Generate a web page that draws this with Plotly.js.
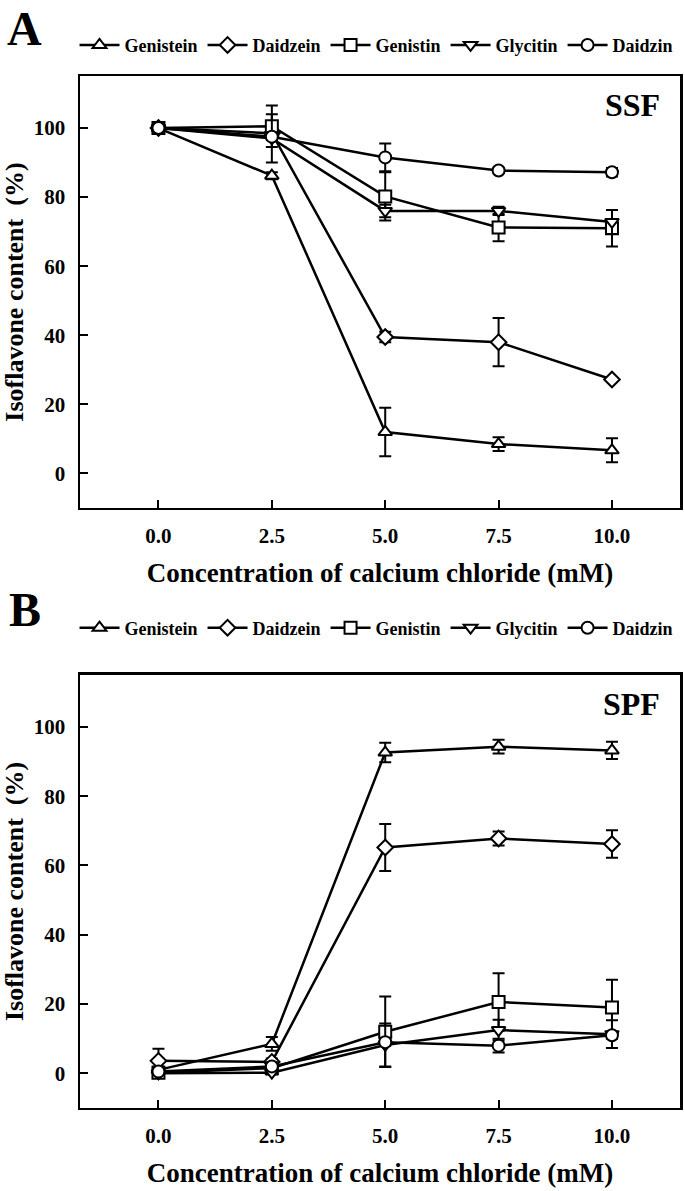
<!DOCTYPE html>
<html>
<head>
<meta charset="utf-8">
<script src="https://cdn.plot.ly/plotly-3.0.1.min.js"></script>
<style>body{margin:0;background:#fff}#chart{width:685px;height:1191px}</style>
</head>
<body>
<div id="chart"></div>
<script>
// concentration of calcium chloride (mM)
const conc = [0, 2.5, 5.0, 7.5, 10.0];
const seriesNames = ["Genistein", "Daidzein", "Genistin", "Glycitin", "Daidzin"];
const symbols = ["triangle-up", "diamond", "square", "triangle-down", "circle"];
const xTickVals = [0, 2.5, 5.0, 7.5, 10.0];
const xTickText = ["0.0", "2.5", "5.0", "7.5", "10.0"];
const yTickVals = [0, 20, 40, 60, 80, 100];

// Panel A (SSF)
const ssfGenistein    = [100, 86.2, 12.0, 8.5, 6.7];
const ssfGenisteinErr = [0.8, 1.0, 7.0, 2.0, 3.5];
const ssfDaidzein     = [100, 98.5, 39.5, 38.0, 27.2];
const ssfDaidzeinErr  = [0.8, 1.0, 1.5, 7.0, 0.5];
const ssfGenistin     = [100, 100.5, 80.2, 71.2, 71.0];
const ssfGenistinErr  = [0.8, 6.0, 7.0, 4.0, 5.3];
const ssfGlycitin     = [100, 97.0, 76.0, 76.0, 72.8];
const ssfGlycitinErr  = [0.8, 7.0, 1.8, 1.2, 3.5];
const ssfDaidzin      = [100, 97.5, 91.5, 87.7, 87.2];
const ssfDaidzinErr   = [0.8, 1.0, 4.0, 0.8, 1.2];

// Panel B (SPF)
const spfGenistein    = [1.0, 8.5, 92.6, 94.3, 93.2];
const spfGenisteinErr = [1.0, 2.0, 2.8, 2.0, 2.5];
const spfDaidzein     = [3.6, 3.3, 65.2, 67.8, 66.2];
const spfDaidzeinErr  = [3.5, 1.0, 6.8, 2.0, 4.0];
const spfGenistin     = [0.2, 1.5, 12.0, 20.6, 19.0];
const spfGenistinErr  = [0.5, 1.0, 10.2, 8.3, 8.0];
const spfGlycitin     = [0.0, 0.2, 8.2, 12.5, 11.3];
const spfGlycitinErr  = [0.5, 0.5, 6.2, 3.0, 4.0];
const spfDaidzin      = [0.5, 2.0, 9.0, 8.0, 11.0];
const spfDaidzinErr   = [0.5, 0.5, 1.0, 2.0, 1.0];

const ssfVals = [ssfGenistein, ssfDaidzein, ssfGenistin, ssfGlycitin, ssfDaidzin];
const ssfErrs = [ssfGenisteinErr, ssfDaidzeinErr, ssfGenistinErr, ssfGlycitinErr, ssfDaidzinErr];
const spfVals = [spfGenistein, spfDaidzein, spfGenistin, spfGlycitin, spfDaidzin];
const spfErrs = [spfGenisteinErr, spfDaidzeinErr, spfGenistinErr, spfGlycitinErr, spfDaidzinErr];

const FONT = "Liberation Serif";
const XDOM = [80 / 685, 680 / 685];

function makeTrace(name, sym, y, err, xa, ya, leg) {
  return {
    x: conc, y: y, name: name, type: "scatter", mode: "lines+markers",
    xaxis: xa, yaxis: ya, legend: leg,
    line: {color: "#000", width: 2.5},
    marker: {symbol: sym, size: 12, color: "#fff", line: {color: "#000", width: 2}},
    error_y: {type: "data", array: err, visible: true, color: "#000", thickness: 2, width: 6},
    cliponaxis: false
  };
}

const traces = [];
for (let i = 0; i < seriesNames.length; i++) {
  traces.push(makeTrace(seriesNames[i], symbols[i], ssfVals[i], ssfErrs[i], "x", "y", "legend"));
}
for (let i = 0; i < seriesNames.length; i++) {
  traces.push(makeTrace(seriesNames[i], symbols[i], spfVals[i], spfErrs[i], "x2", "y2", "legend2"));
}

function xAxis(anchor) {
  return {
    anchor: anchor, domain: XDOM, range: [-1.73, 11.5],
    tickvals: xTickVals, ticktext: xTickText,
    ticks: "inside", ticklen: 8, tickwidth: 2, tickcolor: "#000",
    showline: true, linewidth: 2.5, linecolor: "#000", mirror: true,
    showgrid: false, zeroline: false,
    tickfont: {family: FONT, size: 21, weight: "bold", color: "#000"},
    ticklabelstandoff: 7,
    title: {text: "Concentration of calcium chloride (mM)", standoff: 17,
            font: {family: FONT, size: 27, weight: "bold", color: "#000"}}
  };
}
function yAxis(anchor, domain) {
  return {
    anchor: anchor, domain: domain, range: [-10, 115],
    tickvals: yTickVals,
    ticks: "inside", ticklen: 8, tickwidth: 2, tickcolor: "#000",
    showline: true, linewidth: 2.5, linecolor: "#000", mirror: true,
    showgrid: false, zeroline: false,
    tickfont: {family: FONT, size: 21, weight: "bold", color: "#000"},
    ticklabelstandoff: 8,
    title: {text: "Isoflavone content\u00a0 (%)", standoff: 8,
            font: {family: FONT, size: 26, weight: "bold", color: "#000"}}
  };
}
function legend(y) {
  return {
    orientation: "h", x: XDOM[0] - 0.008, xanchor: "left", y: y, yanchor: "middle",
    xref: "paper", yref: "paper",
    font: {family: FONT, size: 18, weight: "bold", color: "#000"},
    itemwidth: 40,
    bgcolor: "rgba(0,0,0,0)", borderwidth: 0, traceorder: "normal"
  };
}

const layout = {
  width: 685, height: 1191,
  margin: {l: 0, r: 0, t: 0, b: 0},
  paper_bgcolor: "#fff", plot_bgcolor: "#fff",
  showlegend: true,
  xaxis: xAxis("y"),
  yaxis: yAxis("x", [0.5735, 0.936]),
  xaxis2: xAxis("y2"),
  yaxis2: yAxis("x2", [0.0697, 0.4333]),
  legend: legend(0.962),
  legend2: legend(0.4727),
  annotations: [
    {text: "A", xref: "paper", yref: "paper", x: 25 / 685, y: 1.0, xanchor: "center", yanchor: "top",
     showarrow: false, font: {family: FONT, size: 48, weight: "bold", color: "#000"}},
    {text: "B", xref: "paper", yref: "paper", x: 25 / 685, y: 0.512, xanchor: "center", yanchor: "top",
     showarrow: false, font: {family: FONT, size: 48, weight: "bold", color: "#000"}},
    {text: "SSF", xref: "x domain", yref: "y domain", x: 0.97, y: 0.98, xanchor: "right", yanchor: "top",
     showarrow: false, font: {family: FONT, size: 32, weight: "bold", color: "#000"}},
    {text: "SPF", xref: "x2 domain", yref: "y2 domain", x: 0.97, y: 0.98, xanchor: "right", yanchor: "top",
     showarrow: false, font: {family: FONT, size: 32, weight: "bold", color: "#000"}}
  ]
};

Plotly.newPlot("chart", traces, layout, {displayModeBar: false, staticPlot: true});
</script>
</body>
</html>
